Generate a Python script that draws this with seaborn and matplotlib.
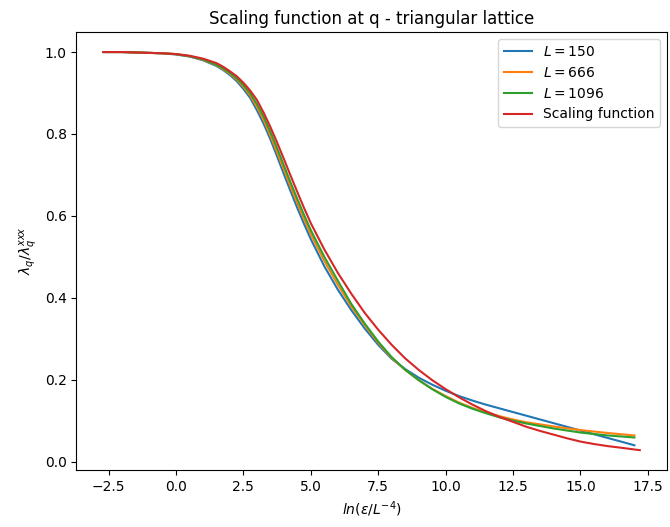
import matplotlib
matplotlib.use("Agg")
import matplotlib.pyplot as plt
import seaborn as sns

x_L150 = [-2.7, -2.0, -1.0, -0.5, 0.0, 0.5, 1.0, 1.5, 1.75, 2.0, 2.25, 2.5, 2.75, 3.0, 3.25, 3.5, 3.75, 4.0, 4.25, 4.5, 4.75, 5.0, 5.5, 6.0, 6.5, 7.0, 7.5, 8.0, 8.5, 9.0, 9.5, 10.0, 10.5, 11.0, 11.5, 12.0, 13.0, 14.0, 15.0, 16.0, 17.0]
y_L150 = [1.000, 1.000, 0.998, 0.997, 0.994, 0.989, 0.980, 0.966, 0.956, 0.944, 0.929, 0.910, 0.888, 0.858, 0.825, 0.787, 0.745, 0.702, 0.660, 0.619, 0.580, 0.543, 0.477, 0.420, 0.370, 0.325, 0.285, 0.251, 0.226, 0.205, 0.188, 0.173, 0.160, 0.149, 0.139, 0.130, 0.112, 0.094, 0.076, 0.058, 0.040]

x_L666 = [-2.7, -2.0, -1.0, -0.5, 0.0, 0.5, 1.0, 1.5, 1.75, 2.0, 2.25, 2.5, 2.75, 3.0, 3.25, 3.5, 3.75, 4.0, 4.25, 4.5, 4.75, 5.0, 5.5, 6.0, 6.5, 7.0, 7.5, 8.0, 8.5, 9.0, 9.5, 10.0, 10.5, 11.0, 11.5, 12.0, 12.5, 13.0, 14.0, 15.0, 16.0, 17.0]
y_L666 = [1.000, 1.000, 0.998, 0.997, 0.995, 0.990, 0.981, 0.968, 0.958, 0.947, 0.933, 0.915, 0.894, 0.866, 0.834, 0.796, 0.755, 0.713, 0.671, 0.631, 0.592, 0.555, 0.490, 0.432, 0.379, 0.333, 0.290, 0.253, 0.224, 0.199, 0.178, 0.160, 0.144, 0.131, 0.120, 0.111, 0.103, 0.096, 0.086, 0.077, 0.070, 0.064]

x_L1096 = [-2.7, -2.0, -1.0, -0.5, 0.0, 0.5, 1.0, 1.5, 1.75, 2.0, 2.25, 2.5, 2.75, 3.0, 3.25, 3.5, 3.75, 4.0, 4.25, 4.5, 4.75, 5.0, 5.5, 6.0, 6.5, 7.0, 7.5, 8.0, 8.5, 9.0, 9.5, 10.0, 10.5, 11.0, 11.5, 12.0, 12.5, 13.0, 14.0, 15.0, 16.0, 17.0]
y_L1096 = [1.000, 1.000, 0.998, 0.997, 0.995, 0.990, 0.982, 0.969, 0.960, 0.949, 0.936, 0.919, 0.899, 0.873, 0.842, 0.805, 0.765, 0.723, 0.681, 0.641, 0.602, 0.565, 0.500, 0.442, 0.385, 0.337, 0.293, 0.255, 0.224, 0.199, 0.177, 0.158, 0.142, 0.129, 0.118, 0.108, 0.100, 0.093, 0.081, 0.071, 0.064, 0.059]

x_scal = [-2.7, -2.0, -1.0, -0.5, 0.0, 0.5, 1.0, 1.5, 1.75, 2.0, 2.25, 2.5, 2.75, 3.0, 3.25, 3.5, 3.75, 4.0, 4.25, 4.5, 4.75, 5.0, 5.5, 6.0, 6.5, 7.0, 7.5, 8.0, 8.5, 9.0, 9.5, 10.0, 10.5, 11.0, 11.5, 12.0, 12.5, 13.0, 13.5, 14.0, 14.5, 15.0, 15.5, 16.0, 16.5, 17.2]
y_scal = [1.000, 1.000, 0.998, 0.997, 0.995, 0.991, 0.984, 0.973, 0.964, 0.953, 0.941, 0.925, 0.906, 0.883, 0.852, 0.817, 0.779, 0.739, 0.698, 0.658, 0.619, 0.582, 0.518, 0.461, 0.410, 0.363, 0.322, 0.285, 0.252, 0.224, 0.199, 0.177, 0.157, 0.139, 0.123, 0.109, 0.097, 0.085, 0.075, 0.066, 0.057, 0.049, 0.043, 0.038, 0.034, 0.028]

labels = [r"$L = 150$", r"$L = 666$", r"$L = 1096$", "Scaling function"]
colors = ["#1f77b4", "#ff7f0e", "#2ca02c", "#d62728"]

fig, ax = plt.subplots(figsize=(6.7, 5.27), dpi=100)
fig.subplots_adjust(left=0.114, right=0.995, top=0.939, bottom=0.108)

series = [(x_L150, y_L150), (x_L666, y_L666), (x_L1096, y_L1096), (x_scal, y_scal)]
for (xs, ys), lab, col in zip(series, labels, colors):
    sns.lineplot(x=xs, y=ys, ax=ax, label=lab, color=col, linewidth=1.5, sort=False)

ax.set_title("Scaling function at q - triangular lattice")
ax.set_xlabel(r"$ln(\epsilon/L^{-4})$")
ax.set_ylabel(r"$\lambda_q/\lambda_q^{xxx}$")
ax.legend(loc="upper right")

fig.savefig("out.png", dpi=100)
